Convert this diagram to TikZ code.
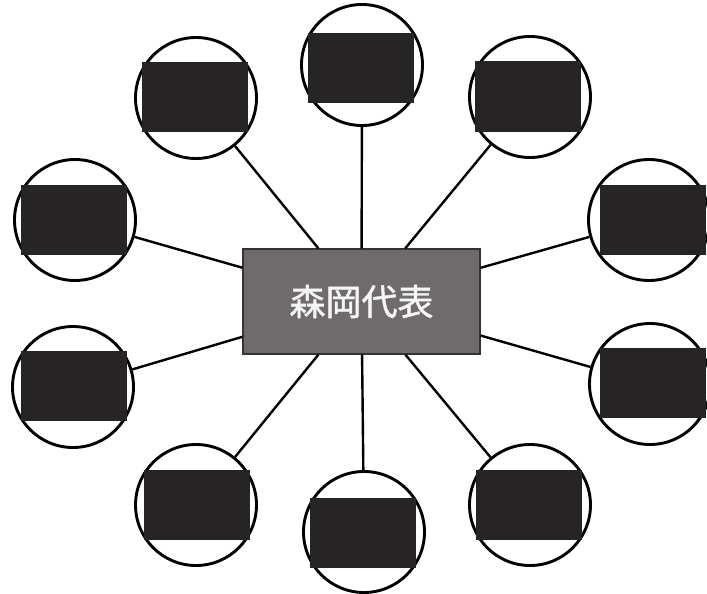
\documentclass[tikz,border=0pt]{standalone}
\usepackage{fontspec}
\newfontfamily\cjk[FakeBold=1.2]{Noto Sans CJK JP}
\definecolor{boxgray}{HTML}{6F6B6C}
\definecolor{inkblack}{HTML}{262425}
\begin{document}
\begin{tikzpicture}[x=1pt,y=-1pt,
  ring/.style={circle,draw=black,line width=2.9pt,fill=white,minimum size=121pt,inner sep=0pt},
  blk/.style={rectangle,fill=inkblack,minimum width=106pt,minimum height=70pt,inner sep=0pt},
  spoke/.style={draw=black,line width=2.4pt},
  center/.style={rectangle,draw=black!80,line width=1.3pt,fill=boxgray,minimum width=237pt,minimum height=105pt,inner sep=0pt,text=white!96!black,font=\cjk\fontsize{36pt}{40pt}\selectfont}]
\useasboundingbox (0,0) rectangle (707,594);
\clip (0,0) rectangle (707,594);
\node[center] (main) at (361.5,301.5) {森岡代表};
% circles
\node[ring] (c1) at (362,65) {};
\node[ring] (c2) at (196,98) {};
\node[ring] (c3) at (530,97) {};
\node[ring] (c4) at (75,220) {};
\node[ring] (c5) at (649,220) {};
\node[ring] (c6) at (73,387) {};
\node[ring] (c7) at (650,384) {};
\node[ring] (c8) at (196,505) {};
\node[ring] (c9) at (364,532) {};
\node[ring] (c10) at (530,505) {};
% spokes
\foreach \c in {c1,c2,c3,c4,c5,c6,c7,c8,c9,c10}
  \path[spoke] (main) -- (\c);
% black blocks
\node[blk] (b1) at (361,68) {};
\node[blk] (b2) at (195,97) {};
\node[blk] (b3) at (528,96.5) {};
\node[blk] (b4) at (74,220) {};
\node[blk] (b5) at (653,219.5) {};
\node[blk] (b6) at (73.5,385.5) {};
\node[blk] (b7) at (653,383) {};
\node[blk] (b8) at (196.5,505) {};
\node[blk] (b9) at (363,533) {};
\node[blk] (b10) at (529,504.5) {};
\end{tikzpicture}
\end{document}
